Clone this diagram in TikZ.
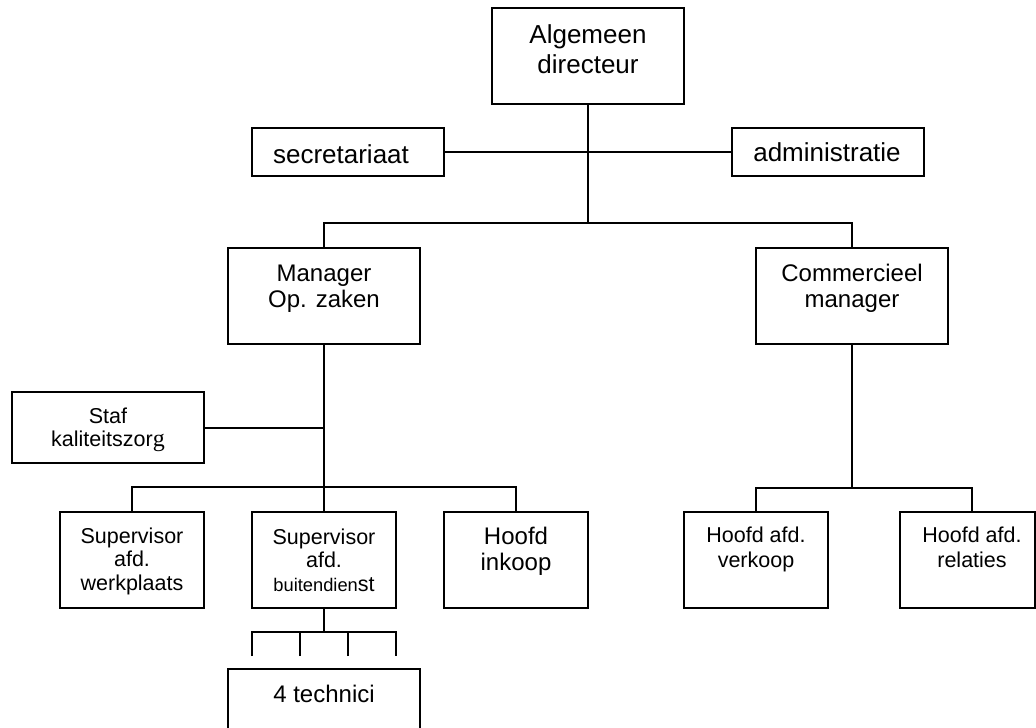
\documentclass[tikz,border=0pt]{standalone}
\usepackage{fontspec}
\setmainfont{Liberation Sans}
\newfontfamily\tnr{Liberation Serif}
\begin{document}
\begin{tikzpicture}[x=0.5pt,y=-0.5pt,
  bx/.style={draw,line width=1pt,rectangle,inner sep=0pt},
  ln/.style={line width=1pt},
  txt/.style={anchor=base,align=center,inner sep=0pt},
  big/.style={font=\fontsize{13}{15}\selectfont},
  mid/.style={font=\fontsize{12}{13}\selectfont},
  sml/.style={font=\fontsize{10.75}{11.75}\selectfont}]
\useasboundingbox (0,0) rectangle (1036,727);
\clip (0,0) rectangle (1036,727);
% boxes
\node[bx,minimum width=96pt,minimum height=48pt] (dir) at (588,56) {};
\node[bx,minimum width=96pt,minimum height=24pt] (sec) at (348,152) {};
\node[bx,minimum width=96pt,minimum height=24pt] (adm) at (828,152) {};
\node[bx,minimum width=96pt,minimum height=48pt] (man) at (324,296) {};
\node[bx,minimum width=96pt,minimum height=48pt] (com) at (852,296) {};
\node[bx,minimum width=96pt,minimum height=35.5pt] (staf) at (108,427.5) {};
\node[bx,minimum width=72pt,minimum height=48pt] (sup1) at (132,560) {};
\node[bx,minimum width=72pt,minimum height=48pt] (sup2) at (324,560) {};
\node[bx,minimum width=72pt,minimum height=48pt] (hi) at (516,560) {};
\node[bx,minimum width=72pt,minimum height=48pt] (hv) at (756,560) {};
\node[bx,minimum width=67.5pt,minimum height=48pt] (hr) at (967.5,560) {};
\node[bx,minimum width=96pt,minimum height=50pt] (tech) at (324,719) {};
% texts (base anchor = baseline of the last line)
\node[txt,big] (dirT) at (588,74) {Algemeen\\directeur};
\node[txt,big] (secT) at (341,163) {secretariaat};
\node[txt,big] (admT) at (827,162) {administratie};
\node[txt,mid] (manT) at (324,307) {Manager\\Op. zaken};
\node[txt,mid] (comT) at (852,307) {Commercieel\\manager};
\node[txt,sml,font=\fontsize{10.75}{11.5}\selectfont] (stafT) at (108,446) {Staf\\kaliteitszor{\tnr\fontsize{12}{11.5}\selectfont g}};
\node[txt,sml] (sup1T) at (132,590) {Supervisor\\afd.\\werkplaats};
\node[txt,sml] (sup2T) at (324,591) {Supervisor\\afd.\\{\fontsize{9.15}{11.75}\selectfont buitendien}st};
\node[txt,mid] (hiT) at (516,570) {Hoofd\\inkoop};
\node[txt,sml,font=\fontsize{10.75}{12.5}\selectfont] (hvT) at (756,567) {Hoofd afd.\\verkoop};
\node[txt,sml,font=\fontsize{10.75}{12.5}\selectfont] (hrT) at (972,567) {Hoofd afd.\\relaties};
\node[txt,mid] (techT) at (324,702) {4 technici};
% junction coordinates
\coordinate (bus1) at (588,223);
\coordinate (bus2) at (324,487);
\coordinate (bus3) at (852,488);
\coordinate (bus4) at (324,632);
\coordinate (hrtop) at (972,512);
\coordinate (t1) at (252,656);
\coordinate (t2) at (300,656);
\coordinate (t3) at (348,656);
\coordinate (t4) at (396,656);
% connectors
\draw[ln] (sec.east) -- (adm.west);
\draw[ln] (dir.south) -- (bus1);
\draw[ln] (man.north) |- (bus1) -| (com.north);
\draw[ln] (man.south) -- (bus2);
\draw[ln] (staf.east) -- (staf.east -| man.south);
\draw[ln] (sup1.north) |- (bus2) -| (hi.north);
\draw[ln] (bus2) -- (sup2.north);
\draw[ln] (com.south) -- (bus3);
\draw[ln] (hv.north) |- (bus3) -| (hrtop);
\draw[ln] (sup2.south) -- (bus4);
\draw[ln] (t1) -- (t1 |- bus4) -- (t4 |- bus4) -- (t4);
\draw[ln] (t2) -- (t2 |- bus4);
\draw[ln] (t3) -- (t3 |- bus4);
\end{tikzpicture}
\end{document}
